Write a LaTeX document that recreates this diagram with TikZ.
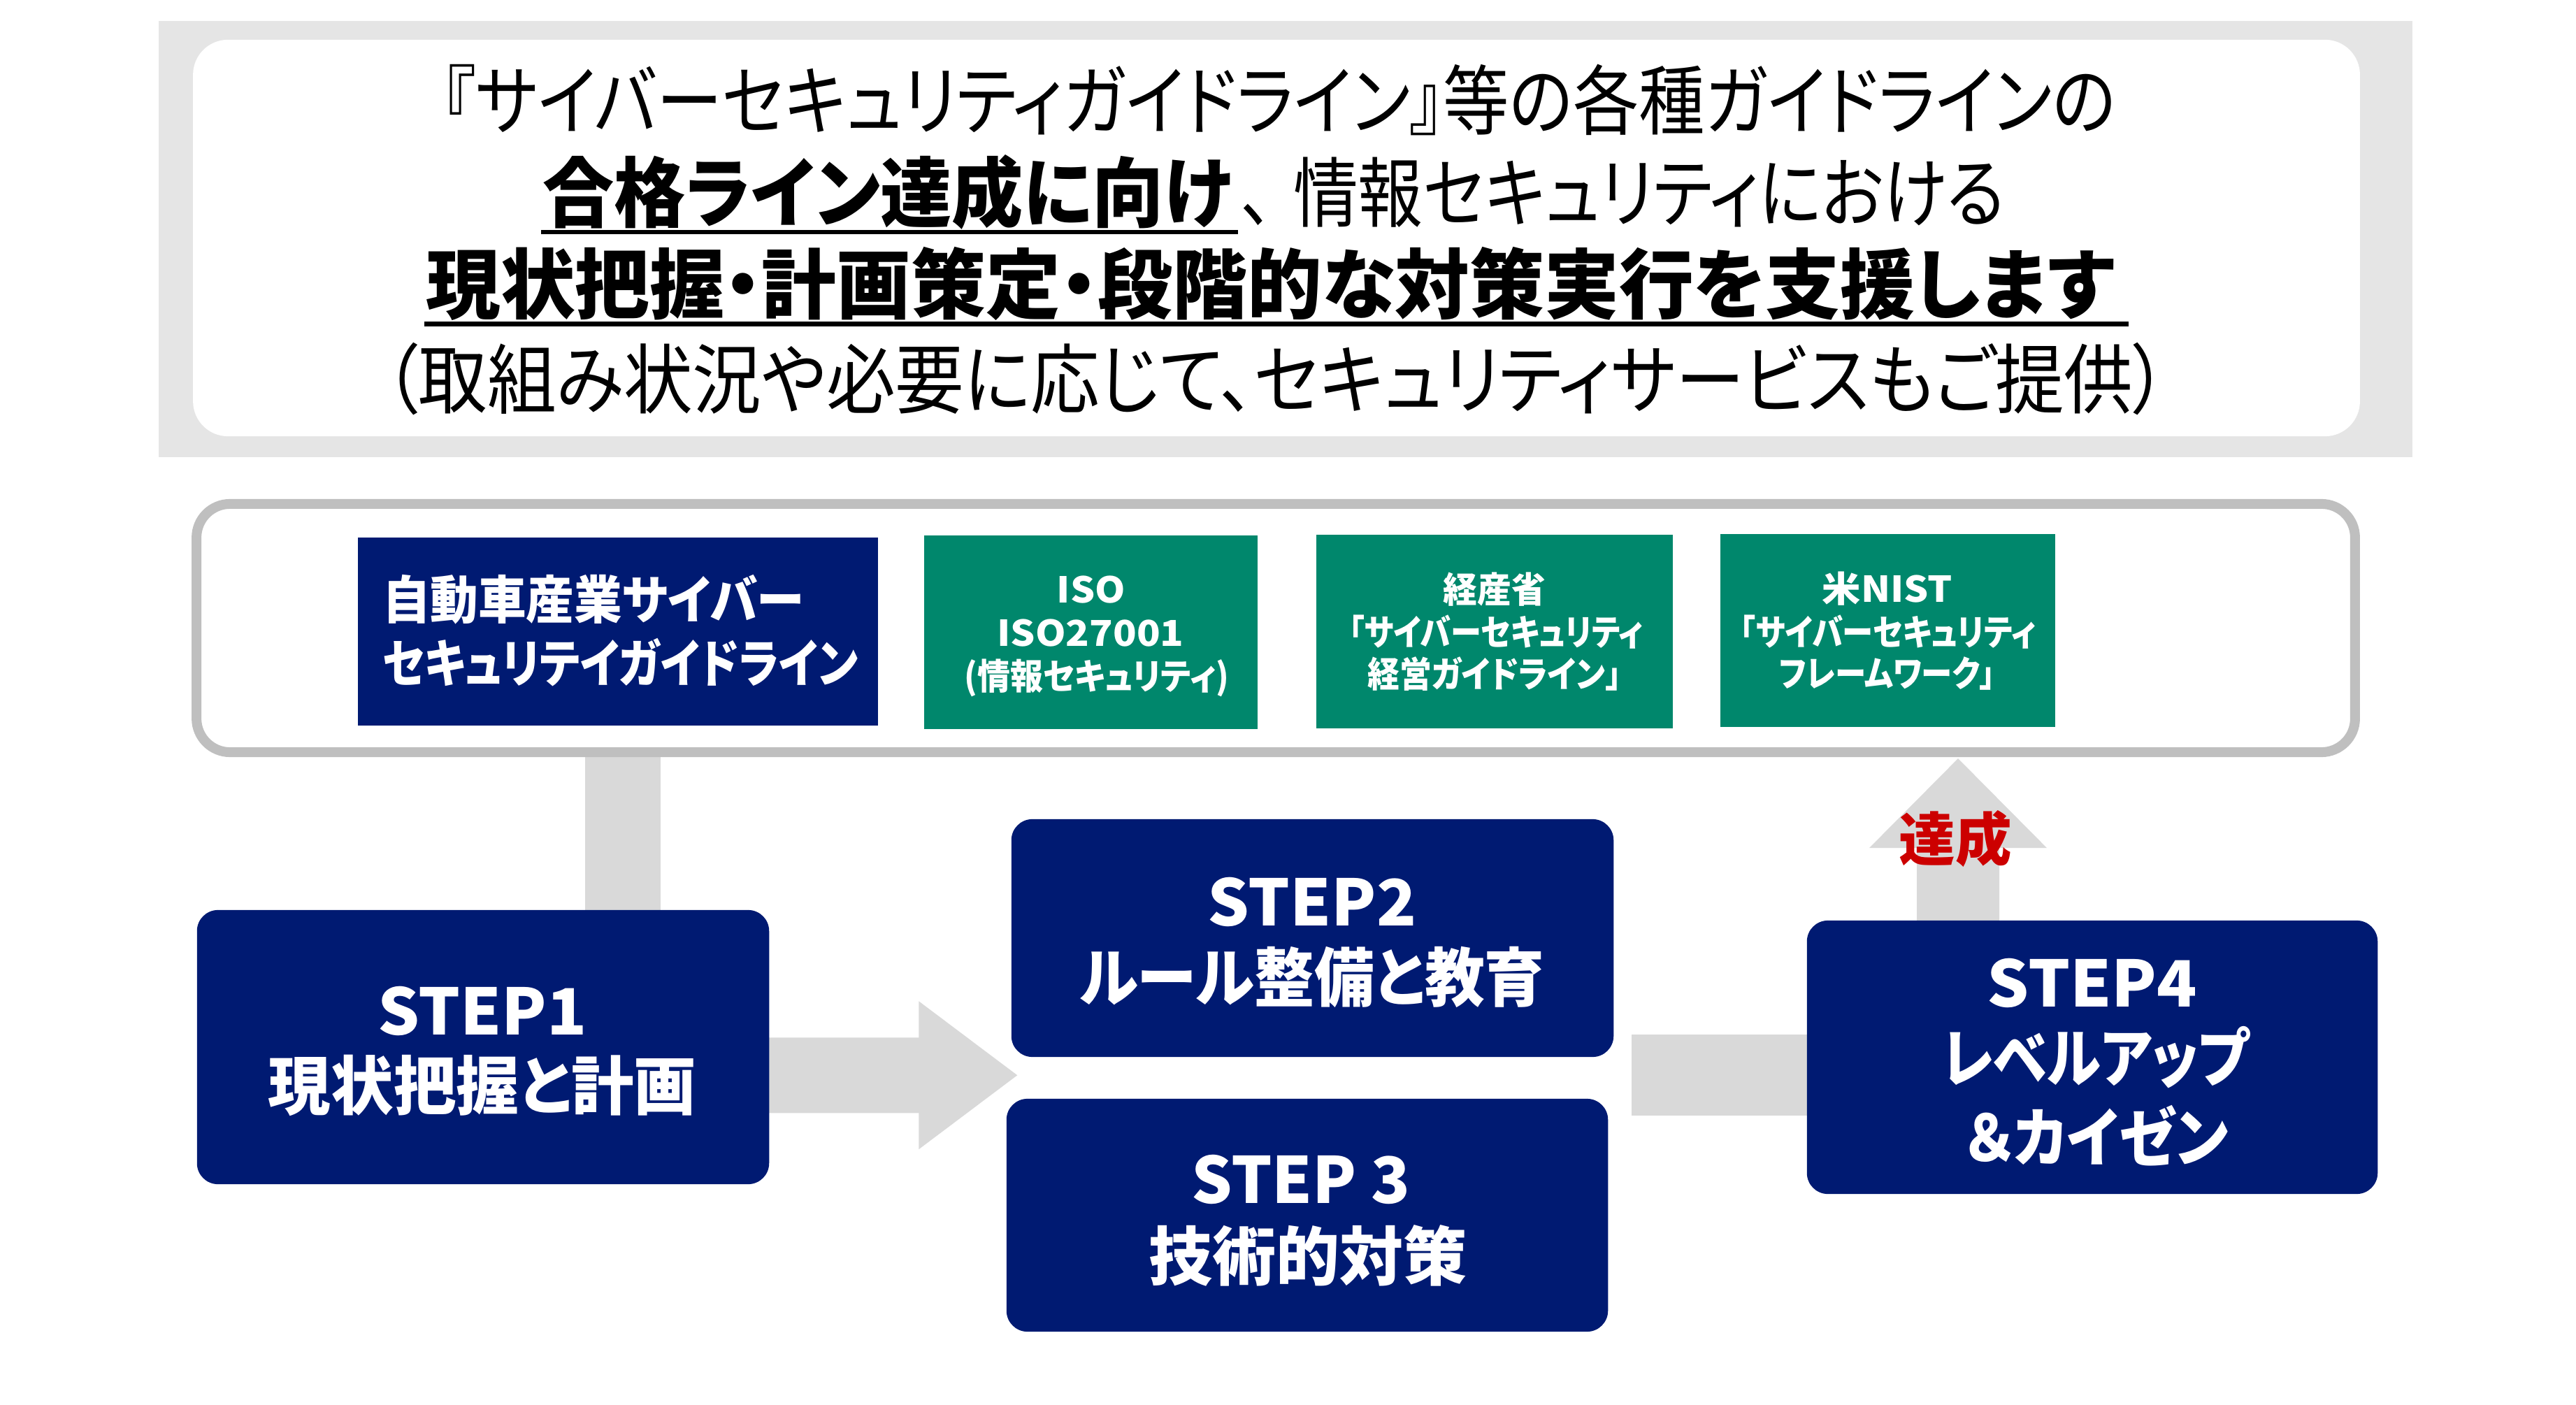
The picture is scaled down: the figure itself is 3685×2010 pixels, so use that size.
\documentclass[tikz,border=0pt]{standalone}
\usepackage{fontspec}
\usepackage{graphicx}
\newfontfamily\jp[RawFeature={+palt}]{Noto Sans CJK JP}
\usetikzlibrary{calc,backgrounds}
\definecolor{navy}{HTML}{001A72}
\definecolor{tealgreen}{HTML}{00876C}
\definecolor{bandgray}{HTML}{E5E5E5}
\definecolor{arrowgray}{HTML}{D9D9D9}
\definecolor{bordergray}{HTML}{BFBFBF}
\definecolor{redtext}{HTML}{CC0000}
\newcommand\fitw[2]{\resizebox{#1}{\height}{#2}}
\begin{document}
\begin{tikzpicture}[x=0.01cm,y=-0.01cm,
  txt/.style={inner sep=0pt, outer sep=0pt, anchor=center},
  toptxt/.style={txt, font=\jp\fontsize{31}{31}\selectfont},
  topbold/.style={txt, font=\jp\bfseries\fontsize{31}{31}\selectfont},
  guidetxt/.style={txt, text=white, font=\jp\bfseries\fontsize{21}{21}\selectfont},
  greentxt/.style={txt, text=white, font=\jp\bfseries\fontsize{14.5}{14.5}\selectfont},
  steptxt/.style={txt, text=white, font=\jp\bfseries\fontsize{26}{26}\selectfont},
  navybox/.style={fill=navy, inner sep=0pt, outer sep=0pt},
  greenbox/.style={fill=tealgreen, inner sep=0pt, outer sep=0pt},
  stepbox/.style={fill=navy, rounded corners=0.3cm, inner sep=0pt, outer sep=0pt},
  connector/.style={fill=arrowgray}]
\useasboundingbox (0,0) rectangle (3685,2010);

% top message panel
\node[fill=bandgray, inner sep=0pt, outer sep=0pt, minimum width=32.22cm, minimum height=6.24cm] (band) at (1839,342) {};
\node[fill=white, rounded corners=0.5cm, inner sep=0pt, outer sep=0pt, minimum width=30.98cm, minimum height=5.67cm] (panel) at (1826,340.5) {};

\node[toptxt] (t1) at (1830,143) {\fitw{23.92cm}{『サイバーセキュリティガイドライン』等の各種ガイドラインの}};
\node[topbold] (t2b) at (1270,275) {\fitw{9.86cm}{合格ライン達成に向け}};
\node[toptxt] (t2r) at (2322,275) {\fitw{10.92cm}{、\hspace{0.3em}情報セキュリティにおける}};
\node[topbold] (t3) at (1817,406) {\fitw{24.14cm}{現状把握・計画策定・段階的な対策実行を支援します}};
\node[toptxt] (t4) at (1825,542) {\fitw{25.50cm}{（取組み状況や必要に応じて、セキュリティサービスもご提供）}};
\draw[line width=0.065cm] (774,332) -- (1771,332);
\draw[line width=0.07cm] (607,463.5) -- (3045,463.5);

% guideline frame
\node[draw=bordergray, line width=0.14cm, fill=white, rounded corners=0.48cm, inner sep=0pt, outer sep=0pt, minimum width=30.86cm, minimum height=3.55cm] (guide) at (1825,898.5) {};

\node[navybox, minimum width=7.44cm, minimum height=2.69cm] (g1) at (884,903.5) {};
\node[greenbox, minimum width=4.77cm, minimum height=2.77cm] (g2) at (1560.5,904.5) {};
\node[greenbox, minimum width=5.10cm, minimum height=2.77cm] (g3) at (2138,903.5) {};
\node[greenbox, minimum width=4.79cm, minimum height=2.76cm] (g4) at (2700.5,902) {};

\node[guidetxt, anchor=west] (g1a) at (547,858) {\fitw{6.03cm}{自動車産業サイバー}};
\node[guidetxt, anchor=west] (g1b) at (547,948) {\fitw{6.80cm}{セキュリテイガイドライン}};

\node[greentxt] (g2a) at (1561,844) {\fitw{0.98cm}{ISO}};
\node[greentxt] (g2b) at (1560,906) {\fitw{2.67cm}{ISO27001}};
\node[greentxt] (g2c) at (1569,970) {\fitw{3.78cm}{(情報セキュリティ)}};

\node[greentxt] (g3a) at (2138,843) {\fitw{1.46cm}{経産省}};
\node[greentxt] (g3b) at (2140,904) {\fitw{4.21cm}{「サイバーセキュリティ}};
\node[greentxt] (g3c) at (2138,964) {\fitw{3.63cm}{経営ガイドライン」}};

\node[greentxt] (g4a) at (2700,842) {\fitw{1.86cm}{米NIST}};
\node[greentxt] (g4b) at (2701,904) {\fitw{4.23cm}{「サイバーセキュリティ}};
\node[greentxt] (g4c) at (2700,964) {\fitw{3.09cm}{フレームワーク」}};

% steps
\node[stepbox, minimum width=8.18cm, minimum height=3.92cm] (s1) at (691,1498) {};
\node[stepbox, minimum width=8.61cm, minimum height=3.40cm] (s2) at (1877.5,1342) {};
\node[stepbox, minimum width=8.60cm, minimum height=3.33cm] (s3) at (1870,1738.5) {};
\node[stepbox, minimum width=8.16cm, minimum height=3.91cm] (s4) at (2993,1512.5) {};

\node[steptxt] (s1a) at (690,1446) {\fitw{2.99cm}{STEP1}};
\node[steptxt] (s1b) at (690,1553) {\fitw{6.12cm}{現状把握と計画}};
\node[steptxt] (s2a) at (1877,1290) {\fitw{2.98cm}{STEP2}};
\node[steptxt] (s2b) at (1877,1398) {\fitw{6.65cm}{ルール整備と教育}};
\node[steptxt] (s3a) at (1861,1687) {\fitw{3.13cm}{STEP 3}};
\node[steptxt] (s3b) at (1871,1796) {\fitw{4.55cm}{技術的対策}};
\node[steptxt] (s4a) at (2993,1406) {\fitw{3.00cm}{STEP4}};
\node[steptxt] (s4b) at (2998,1513) {\fitw{4.39cm}{レベルアップ}};
\node[steptxt] (s4c) at (3000,1625) {\fitw{3.75cm}{＆カイゼン}};

% connectors
\coordinate (mid23) at ($(s2.west)!0.5!(s3.west)$);
\coordinate (a1tip) at ($(mid23)+(12,-2)$);
\coordinate (xup) at (2801,0);
\coordinate (xbar) at (891,0);
\coordinate (uptip) at ($(guide.south -| xup)+(0,9)$);
\begin{pgfonlayer}{background}
\fill[connector] ($(guide.south -| xbar)+(-54,0)$) rectangle ($(s1.north -| xbar)+(54,5)$);
\fill[connector] ($(s1.east |- a1tip)+(-5,-54)$) -- ($(a1tip)+(-141,-54)$) -- ($(a1tip)+(-141,-106)$) -- (a1tip) -- ($(a1tip)+(-141,106)$) -- ($(a1tip)+(-141,54)$) -- ($(s1.east |- a1tip)+(-5,54)$) -- cycle;
\fill[connector] ($(s2.east |- a1tip)+(26,-58)$) rectangle ($(s4.west |- a1tip)+(10,58)$);
\fill[connector] ($(s4.north -| xup)+(-59,5)$) -- ($(uptip)+(-59,128)$) -- ($(uptip)+(-127,128)$) -- (uptip) -- ($(uptip)+(127,128)$) -- ($(uptip)+(59,128)$) -- ($(s4.north -| xup)+(59,5)$) -- cycle;
\end{pgfonlayer}
\node[txt, text=redtext, font=\jp\bfseries\fontsize{23.5}{23.5}\selectfont] (tassei) at (2797,1200) {\fitw{1.61cm}{達成}};
\end{tikzpicture}
\end{document}
